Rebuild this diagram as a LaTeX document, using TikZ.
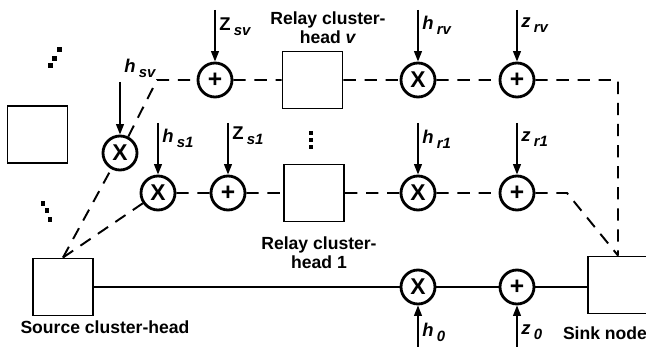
\documentclass[tikz,border=0pt]{standalone}
\usepackage{fontspec}
\setmainfont{Liberation Sans}
\usetikzlibrary{positioning,arrows.meta}
\newcommand{\sigtxt}[2]{#1\,\raisebox{-0.5ex}{\fontsize{8.5}{9}\selectfont\bfseries\itshape #2}}

\begin{document}
\begin{tikzpicture}[font=\fontsize{10}{11}\selectfont\bfseries,line width=1.1pt,
  chbox/.style={draw,minimum width=1.2cm,minimum height=1.14cm,inner sep=0pt},
  mulop/.style={circle,draw,line width=1.6pt,minimum size=0.68cm,inner sep=0pt,font=\fontsize{13}{13}\selectfont\bfseries},
  sumop/.style={circle,draw,line width=1.6pt,minimum size=0.68cm,inner sep=0pt,font=\fontsize{14}{14}\selectfont\bfseries},
  feed/.style={-{Triangle[length=6pt,width=4.4pt]}},
  link/.style={dash pattern=on 7pt off 5pt},
  sigl/.style={inner sep=2pt,font=\fontsize{10.5}{11}\selectfont\bfseries}]
\useasboundingbox (0,0) rectangle (12.92,-6.94);
% cluster heads
\node[chbox] (src) at (1.26,-5.74) {};
\node[chbox] (sink) at (12.36,-5.70) {};
\node[chbox] (other) at (0.75,-2.69) {};
\node[chbox] (relv) at (6.25,-1.60) {};
\node[chbox] (rel1) at (6.28,-3.86) {};
% multipliers and adders
\node[sumop] (psv) at (4.30,-1.60) {+};
\node[mulop] (xsv) at (2.40,-3.06) {X};
\node[mulop] (xrv) at (8.36,-1.60) {X};
\node[sumop] (prv) at (10.34,-1.60) {+};
\node[mulop] (xs1) at (3.16,-3.86) {X};
\node[sumop] (ps1) at (4.56,-3.86) {+};
\node[mulop] (xr1) at (8.36,-3.86) {X};
\node[sumop] (pr1) at (10.34,-3.86) {+};
\node[mulop] (x0) at (8.36,-5.74) {X};
\node[sumop] (p0) at (10.34,-5.74) {+};
% captions
\node[align=center] (relvtxt) at (6.56,-0.56) {Relay cluster-\\head \textit{v}};
\node[align=center] (rel1txt) at (6.38,-5.06) {Relay cluster-\\head 1};
\node (srctxt) at (2.10,-6.54) {Source cluster-head};
\node (sinktxt) at (12.10,-6.66) {Sink node};
% bends
\coordinate (bendv) at (3.14,-1.60);
\coordinate (bend1) at (11.34,-3.86);
% inputs
\coordinate (zsv-in) at (4.30,-0.20);
\coordinate (hsv-in) at (2.40,-1.64);
\coordinate (hrv-in) at (8.36,-0.20);
\coordinate (zrv-in) at (10.34,-0.20);
\coordinate (hs1-in) at (3.16,-2.46);
\coordinate (zs1-in) at (4.56,-2.46);
\coordinate (hr1-in) at (8.36,-2.46);
\coordinate (zr1-in) at (10.34,-2.46);
\coordinate (h0-in) at (8.36,-6.94);
\coordinate (z0-in) at (10.34,-6.94);
\draw[feed] (zsv-in) -- (psv) node[sigl,pos=0.33,right] {\sigtxt{Z}{sv}};
\draw[feed] (hsv-in) -- (xsv) node[sigl,at start,above right] {\sigtxt{\textit{h}}{sv}};
\draw[feed] (hrv-in) -- (xrv) node[sigl,pos=0.3,right] {\sigtxt{\textit{h}}{rv}};
\draw[feed] (zrv-in) -- (prv) node[sigl,pos=0.3,right] {\sigtxt{\textit{z}}{rv}};
\draw[feed] (hs1-in) -- (xs1) node[sigl,pos=0.3,right] {\sigtxt{\textit{h}}{s1}};
\draw[feed] (zs1-in) -- (ps1) node[sigl,pos=0.25,right] {\sigtxt{Z}{s1}};
\draw[feed] (hr1-in) -- (xr1) node[sigl,pos=0.32,right] {\sigtxt{\textit{h}}{r1}};
\draw[feed] (zr1-in) -- (pr1) node[sigl,pos=0.32,right] {\sigtxt{\textit{z}}{r1}};
\draw[feed] (h0-in) -- (x0) node[sigl,pos=0.36,right] {\sigtxt{\textit{h}}{0}};
\draw[feed] (z0-in) -- (p0) node[sigl,pos=0.36,right] {\sigtxt{\textit{z}}{0}};
% direct link
\draw (src) -- (x0) -- (p0) -- (p0 -| sink.west);
% relayed links
\draw[link] (src.north) -- (xsv) -- (bendv) -- (psv) -- (relv) -- (xrv) -- (prv) -| (sink.north);
\draw[link] (src.north) -- (xs1) -- (ps1) -- (rel1) -- (xr1) -- (pr1) -- (bend1) -- (sink.north);
% dots
\foreach \x/\y in {1.01/-1.31,1.09/-1.17,1.19/-0.99,0.86/-4.07,0.94/-4.21,1.00/-4.39,6.22/-2.66,6.22/-2.80,6.22/-2.94}
  \fill (\x-0.045,\y-0.045) rectangle +(0.09,0.09);
\end{tikzpicture}
\end{document}
